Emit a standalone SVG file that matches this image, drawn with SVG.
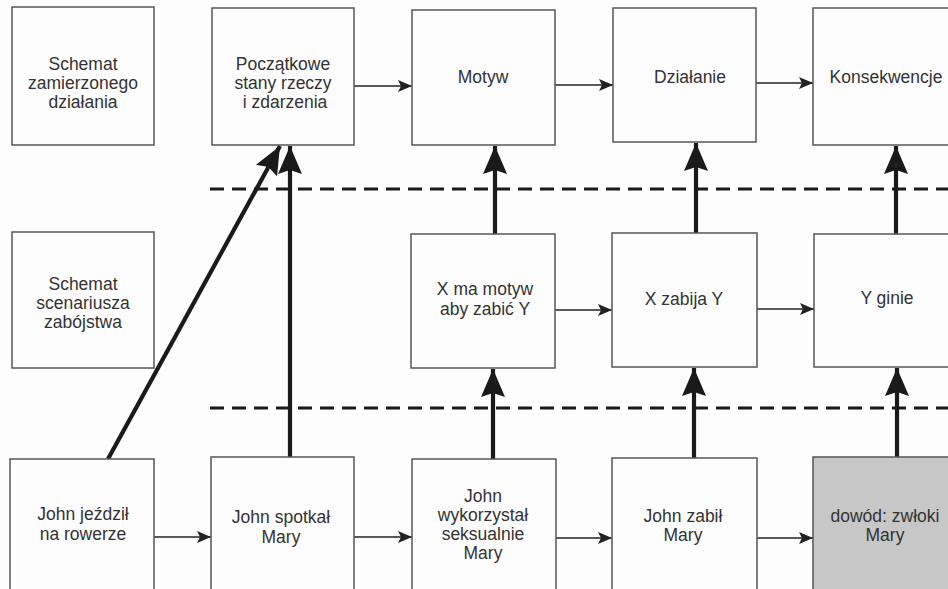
<svg xmlns="http://www.w3.org/2000/svg" width="948" height="589" viewBox="0 0 948 589">
<defs>
<style>
.box{fill:#fdfdfd;stroke:#555;stroke-width:1.5}
.gray{fill:#c7c7c7}
.t{font-family:"Liberation Sans",Arial,sans-serif;font-size:17.5px;fill:#333;text-anchor:middle}
.thin{stroke:#222;stroke-width:1.6;fill:none}
.thick{stroke:#1a1a1a;stroke-width:4.2;fill:none}
.dash{stroke:#1a1a1a;stroke-width:3;stroke-dasharray:14 8;fill:none}
</style>
<marker id="ah" markerWidth="14" markerHeight="12" refX="14" refY="6" orient="auto" markerUnits="userSpaceOnUse"><path d="M0,0 L14,6 L0,12 L3,6 Z" fill="#222"/></marker>
<marker id="AH" markerWidth="28" markerHeight="24" refX="28" refY="12" orient="auto" markerUnits="userSpaceOnUse"><path d="M0,0 L28,12 L0,24 L4,12 Z" fill="#1a1a1a"/></marker>
</defs>
<rect width="948" height="589" fill="#fdfdfd"/>
<g id="connectors">
<line class="dash" x1="210" y1="189" x2="948" y2="189"/>
<line class="dash" x1="210" y1="408" x2="948" y2="408"/>
<line class="thin" x1="354" y1="86" x2="412" y2="86" marker-end="url(#ah)"/>
<line class="thin" x1="555" y1="85" x2="613" y2="85" marker-end="url(#ah)"/>
<line class="thin" x1="756" y1="83" x2="813" y2="83" marker-end="url(#ah)"/>
<line class="thin" x1="555" y1="310" x2="612" y2="310" marker-end="url(#ah)"/>
<line class="thin" x1="757" y1="309" x2="814" y2="309" marker-end="url(#ah)"/>
<line class="thin" x1="154" y1="537" x2="211" y2="537" marker-end="url(#ah)"/>
<line class="thin" x1="354" y1="537" x2="412" y2="537" marker-end="url(#ah)"/>
<line class="thin" x1="556" y1="538" x2="612" y2="538" marker-end="url(#ah)"/>
<line class="thin" x1="757" y1="538" x2="813" y2="538" marker-end="url(#ah)"/>
<line class="thick" x1="108" y1="459" x2="280" y2="146" marker-end="url(#AH)"/>
<line class="thick" x1="290" y1="457" x2="290" y2="146" marker-end="url(#AH)"/>
<line class="thick" x1="495" y1="234" x2="495" y2="146" marker-end="url(#AH)"/>
<line class="thick" x1="493" y1="459" x2="493" y2="369" marker-end="url(#AH)"/>
<line class="thick" x1="696" y1="233" x2="696" y2="143" marker-end="url(#AH)"/>
<line class="thick" x1="694" y1="458" x2="694" y2="368" marker-end="url(#AH)"/>
<line class="thick" x1="896" y1="234" x2="896" y2="146" marker-end="url(#AH)"/>
<line class="thick" x1="897" y1="457" x2="897" y2="368" marker-end="url(#AH)"/>
</g>
<g id="n1"><rect class="box" x="12" y="7" width="142" height="138"/><text class="t" x="83" y="70">Schemat</text><text class="t" x="83" y="89">zamierzonego</text><text class="t" x="83" y="108">działania</text></g>
<g id="n2"><rect class="box" x="212" y="8" width="142" height="137"/><text class="t" x="283" y="70">Początkowe</text><text class="t" x="283" y="89">stany rzeczy</text><text class="t" x="285" y="108">i zdarzenia</text></g>
<g id="n3"><rect class="box" x="412" y="10" width="143" height="135"/><text class="t" x="483" y="83">Motyw</text></g>
<g id="n4"><rect class="box" x="613" y="8" width="143" height="134"/><text class="t" x="690" y="83">Działanie</text></g>
<g id="n5"><rect class="box" x="813" y="8" width="145" height="137"/><text class="t" x="886" y="83">Konsekwencje</text></g>
<g id="n6"><rect class="box" x="12" y="232" width="142" height="136"/><text class="t" x="83" y="290">Schemat</text><text class="t" x="83" y="309">scenariusza</text><text class="t" x="83" y="328">zabójstwa</text></g>
<g id="n7"><rect class="box" x="411" y="234" width="144" height="134"/><text class="t" x="485" y="295">X ma motyw</text><text class="t" x="485" y="315">aby zabić Y</text></g>
<g id="n8"><rect class="box" x="612" y="233" width="145" height="134"/><text class="t" x="684" y="305">X zabija Y</text></g>
<g id="n9"><rect class="box" x="814" y="234" width="144" height="133"/><text class="t" x="887" y="304">Y ginie</text></g>
<g id="n10"><rect class="box" x="10" y="459" width="144" height="140"/><text class="t" x="83" y="520">John jeździł</text><text class="t" x="83" y="540">na rowerze</text></g>
<g id="n11"><rect class="box" x="211" y="457" width="143" height="142"/><text class="t" x="281" y="523">John spotkał</text><text class="t" x="281" y="543">Mary</text></g>
<g id="n12"><rect class="box" x="412" y="459" width="144" height="140"/><text class="t" x="483" y="502">John</text><text class="t" x="483" y="521">wykorzystał</text><text class="t" x="483" y="540">seksualnie</text><text class="t" x="483" y="559">Mary</text></g>
<g id="n13"><rect class="box" x="612" y="458" width="145" height="141"/><text class="t" x="683" y="522">John zabił</text><text class="t" x="683" y="541">Mary</text></g>
<g id="n14"><rect class="box gray" x="813" y="457" width="145" height="142"/><text class="t" x="885" y="522">dowód: zwłoki</text><text class="t" x="885" y="541">Mary</text></g>
</svg>
